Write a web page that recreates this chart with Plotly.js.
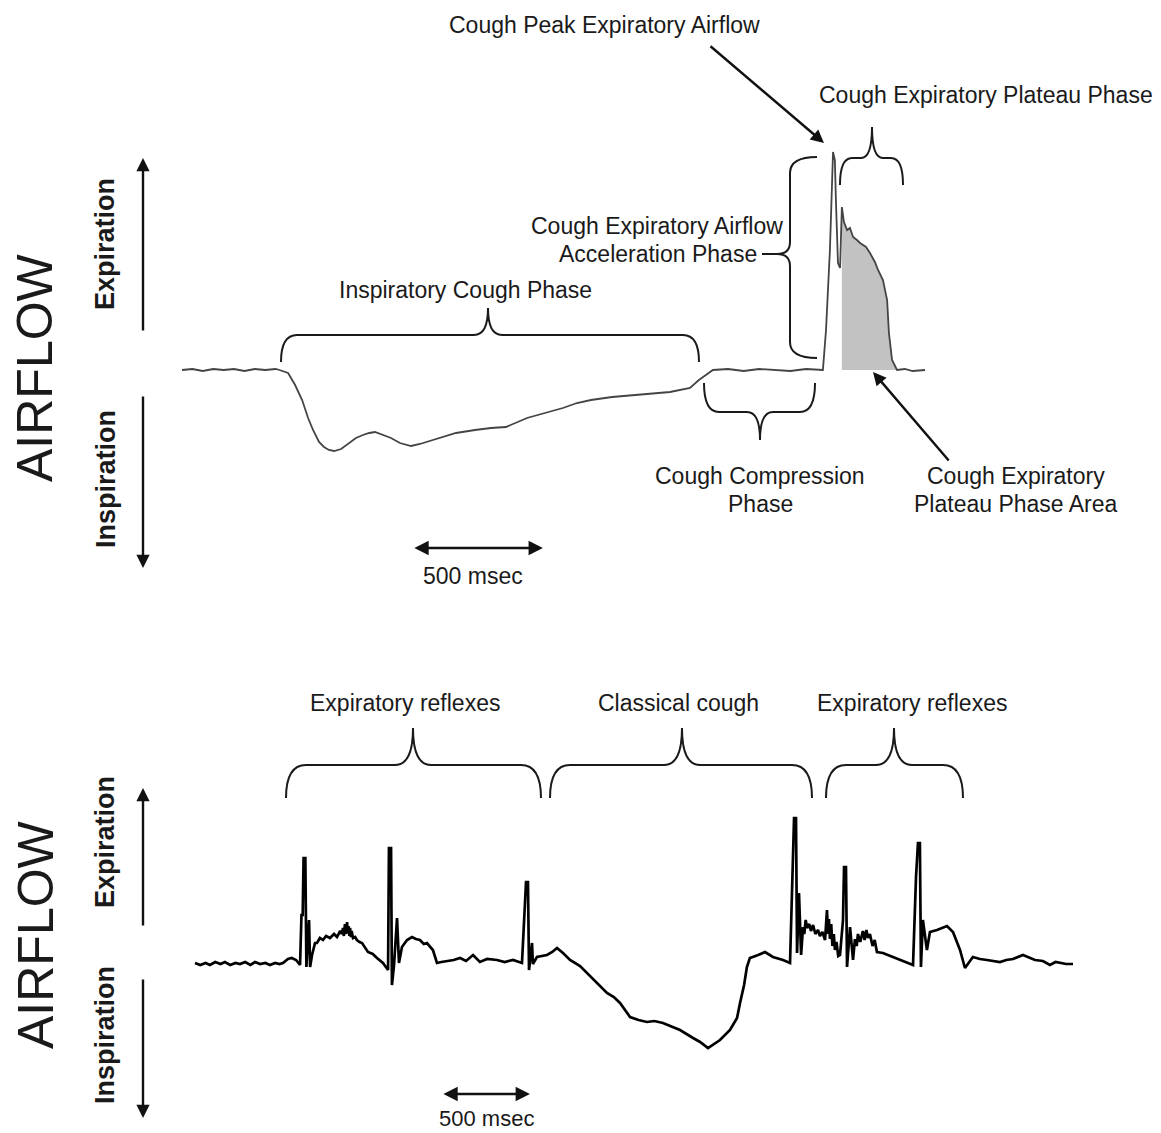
<!DOCTYPE html>
<html>
<head>
<meta charset="utf-8">
<script src="https://cdn.plot.ly/plotly-3.0.1.min.js"></script>
<style>html,body{margin:0;padding:0;background:#fff;}#chart{width:1161px;height:1133px;}</style>
</head>
<body>
<div id="chart"></div>
<script>
// ---------- DATA (time in ms, airflow in arbitrary units; + = expiration, - = inspiration) ----------
// Top panel: single voluntary cough
const topTime = [0, 40, 80, 120, 160, 200, 240, 280, 320, 360, 375, 408, 435, 462, 485, 504, 527, 546, 565, 585,
  612, 642, 669, 696, 720, 742, 773, 804, 838, 881, 915, 942, 992, 1054, 1127, 1188, 1246, 1327, 1396, 1465,
  1519, 1573, 1654, 1738, 1808, 1877, 1954, 1988, 2015, 2042, 2100, 2160, 2220, 2280, 2340, 2400, 2465, 2477,
  2492, 2504, 2511, 2515, 2519, 2523, 2531, 2538, 2546, 2558, 2569, 2581, 2596, 2608, 2631, 2646, 2665, 2677,
  2696, 2712, 2719, 2731, 2750, 2780, 2810, 2858];
const topFlow = [0, 1, -1, 1, 0, 1, -1, 1, 0, 1, 0, -3, -15, -30, -48, -60, -72, -77, -80, -81,
  -79, -73, -68, -65, -63, -62, -65, -68, -73, -76, -74, -72, -68, -63, -60, -58, -57, -48, -43, -38,
  -33, -30, -27, -25, -23, -22, -18, -10, -5, 0, 1, -1, 1, 0, -1, 1, 0, 40,
  120, 218, 210, 170, 130, 107, 102, 163, 148, 140, 142, 133, 130, 127, 123, 117, 108, 100,
  90, 70, 37, 10, 0, 1, -1, 0];
// plateau phase (shaded area) limits, ms
const plateauStart = 2535;
const plateauEnd = 2750;

// Bottom panel: expiratory reflexes and classical cough
const botTime = [
  0, 30, 60, 85, 115, 145, 170, 200, 230, 256, 285, 315, 341, 370, 400, 426, 455, 480, 500, 528,
  550, 574, 597, 605, 612, 617, 627, 633, 642, 648, 654, 665, 682, 693, 710, 727, 745, 767, 790, 807,
  825, 835, 841, 846, 852, 858, 864, 868, 872, 877, 881, 886, 890, 898, 910, 920,
  935, 949, 983, 1010, 1034, 1068, 1097, 1102, 1114, 1119,
  1131, 1148, 1159, 1176, 1205, 1233, 1255, 1278, 1300, 1318, 1352, 1375, 1400, 1432, 1470, 1506, 1540, 1580, 1619, 1660,
  1716, 1760, 1807, 1858, 1875, 1881, 1892, 1898, 1915, 1920, 1943, 2000, 2030, 2057, 2091, 2131, 2188, 2227, 2284, 2341,
  2380, 2415, 2472, 2520, 2568, 2610, 2659, 2700, 2756, 2830, 2870, 2915, 2950, 2983, 3040, 3080, 3097, 3120, 3136, 3153,
  3200, 3239, 3284, 3341, 3381, 3392, 3404, 3415, 3421, 3432, 3444,
  3455, 3462, 3470, 3478, 3490, 3500, 3512, 3525, 3540, 3551, 3565, 3580, 3586, 3591, 3597, 3602, 3608, 3615, 3622, 3630, 3636, 3645, 3655, 3665,
  3682, 3688, 3699, 3705, 3722,
  3739, 3750, 3760, 3767, 3780, 3795, 3805, 3815, 3824, 3835, 3850, 3862, 3875,
  3909, 3966, 4023, 4080, 4097, 4108, 4119, 4125, 4136,
  4159, 4176, 4216, 4273, 4307, 4347, 4375, 4420, 4460, 4500, 4540, 4574, 4610, 4648, 4705, 4740, 4773, 4818, 4858, 4890,
  4915, 4950, 4989];
const botFlow = [
  1, -1, 1, -1, 2, 0, 2, -1, 1, 0, 2, -1, 2, 0, 1, -1, 1, 0, 1, 5,
  6, 4, -1, 49, 49, 106, 106, -3, 30, 44, -3, 9, 21, 21, 26, 24, 28, 26, 30, 27,
  33, 30, 36, 28, 40, 30, 42, 31, 38, 28, 36, 27, 33, 26, 27, 24,
  22, 21, 12, 10, 6, 1, -6, 116, 116, -21,
  -1, 46, 1, 17, 24, 27, 25, 24, 20, 21, 14, 1, 2, 3, 4, 6, 3, 9, 2, 5,
  4, 2, 4, 1, 64, 82, 82, -6, 21, 0, 7, 9, 12, 16, 11, 4, -2, -9, -19, -29,
  -33, -39, -53, -56, -58, -57, -59, -62, -66, -74, -78, -84, -80, -76, -66, -54, -39, -21, -3, 6,
  9, 12, 7, 4, 1, 74, 146, 146, 11, 71, 9,
  37, 30, 44, 36, 40, 33, 39, 30, 34, 28, 32, 24, 40, 54, 30, 45, 25, 40, 18, 30, 14, 22, 8, 9,
  44, 97, 97, -3, 37,
  4, 25, 18, 30, 22, 33, 24, 34, 26, 30, 18, 24, 12,
  11, 7, 3, -1, 87, 121, 121, -3, 44,
  14, 32, 34, 38, 32, 14, -4, 7, 5, 4, 3, 2, 4, 5, 9, 6, 4, 3, -1, 2,
  1, 0, 0];

const scaleBarMs = 500;
const topScaleStart = 888;   // ms, start of top scale bar
const botScaleStart = 1403;  // ms, start of bottom scale bar

// ---------- LAYOUT HELPERS (figure pixels -> paper) ----------
const W = 1161, H = 1133;
const X = px => px / W;
const Y = py => 1 - py / H;
const P = (px, py) => X(px).toFixed(5) + ',' + Y(py).toFixed(5);

function hBrace(x1, x2, xt, yEnd, yLine, yTip, r, rt) {
  return 'M ' + P(x1, yEnd) + ' Q ' + P(x1, yLine) + ' ' + P(x1 + r, yLine) +
    ' L ' + P(xt - rt, yLine) + ' Q ' + P(xt, yLine) + ' ' + P(xt, yTip) +
    ' Q ' + P(xt, yLine) + ' ' + P(xt + rt, yLine) +
    ' L ' + P(x2 - r, yLine) + ' Q ' + P(x2, yLine) + ' ' + P(x2, yEnd);
}
function vBrace(y1, y2, yt, xEnd, xLine, xTip, r, rt) {
  return 'M ' + P(xEnd, y1) + ' Q ' + P(xLine, y1) + ' ' + P(xLine, y1 + r) +
    ' L ' + P(xLine, yt - rt) + ' Q ' + P(xLine, yt) + ' ' + P(xTip, yt) +
    ' Q ' + P(xLine, yt) + ' ' + P(xLine, yt + rt) +
    ' L ' + P(xLine, y2 - r) + ' Q ' + P(xLine, y2) + ' ' + P(xEnd, y2);
}
const braceLine = {color: '#1a1a1a', width: 2};
const shapes = [
  {type: 'path', xref: 'paper', yref: 'paper', line: braceLine, path: hBrace(281, 699, 488, 362, 335, 308, 16, 14)},
  {type: 'path', xref: 'paper', yref: 'paper', line: braceLine, path: hBrace(704, 815, 760, 383, 412, 440, 15, 13)},
  {type: 'path', xref: 'paper', yref: 'paper', line: braceLine, path: hBrace(840, 903, 872, 185, 158, 127, 12, 11)},
  {type: 'path', xref: 'paper', yref: 'paper', line: braceLine, path: vBrace(157, 358, 254, 817, 790, 777, 16, 12)},
  {type: 'line', xref: 'paper', yref: 'paper', line: braceLine, x0: X(762), x1: X(777), y0: Y(254), y1: Y(254)},
  {type: 'path', xref: 'paper', yref: 'paper', line: braceLine, path: hBrace(286, 541, 413, 798, 765, 728, 20, 18)},
  {type: 'path', xref: 'paper', yref: 'paper', line: braceLine, path: hBrace(550, 812, 682, 798, 765, 728, 20, 18)},
  {type: 'path', xref: 'paper', yref: 'paper', line: braceLine, path: hBrace(826, 963, 894, 798, 765, 728, 20, 18)}
];

const FONT = 'Liberation Sans, Arial, Helvetica, sans-serif';
const txt = (s, px, py, size, extra) => Object.assign({
  text: s, xref: 'paper', yref: 'paper', x: X(px), y: Y(py), xanchor: 'center', yanchor: 'middle',
  showarrow: false, font: {family: FONT, size: size || 23, color: '#1a1a1a'}
}, extra || {});
const arrowTo = (hx, hy, tx, ty) => ({
  text: '', xref: 'paper', yref: 'paper', x: X(hx), y: Y(hy), ax: tx - hx, ay: ty - hy,
  showarrow: true, arrowhead: 2, arrowsize: 1.1, arrowwidth: 2.4, arrowcolor: '#111'
});

const annotations = [
  txt('Cough Peak Expiratory Airflow', 604, 25),
  txt('Cough Expiratory Plateau Phase', 986, 95),
  txt('Cough Expiratory Airflow', 657, 226),
  txt('Acceleration Phase', 658, 254),
  txt('Inspiratory Cough Phase', 465, 290),
  txt('Cough Compression', 760, 476),
  txt('Phase', 760, 504),
  txt('Cough Expiratory', 1016, 476),
  txt('Plateau Phase Area', 1016, 504),
  txt('500 msec', 473, 576),
  txt('Expiratory reflexes', 405, 703),
  txt('Classical cough', 678, 703),
  txt('Expiratory reflexes', 912, 703),
  txt('500 msec', 487, 1118, 22),
  txt('AIRFLOW', 35, 368, 50, {textangle: -90}),
  txt('AIRFLOW', 36, 935, 50, {textangle: -90}),
  txt('<b>Expiration</b>', 105, 244, 27, {textangle: -90}),
  txt('<b>Inspiration</b>', 106, 479, 27, {textangle: -90}),
  txt('<b>Expiration</b>', 105, 842, 27, {textangle: -90}),
  txt('<b>Inspiration</b>', 105, 1035, 27, {textangle: -90}),
  arrowTo(824, 143, 709, 45),
  arrowTo(873, 372, 950, 462),
  arrowTo(143, 158, 143, 332),
  arrowTo(143, 568, 143, 395),
  arrowTo(143, 788, 143, 927),
  arrowTo(143, 1118, 143, 978),
  // scale bars spanning 500 ms on each panel's own time axis
  {text: '', xref: 'x', yref: 'paper', axref: 'x', ayref: 'pixel', x: topScaleStart + scaleBarMs, ax: topScaleStart,
   y: Y(548), ay: 0, showarrow: true, arrowside: 'end+start', arrowhead: 2, arrowsize: 1.1, arrowwidth: 2.6, arrowcolor: '#111'},
  {text: '', xref: 'x2', yref: 'paper', axref: 'x2', ayref: 'pixel', x: botScaleStart + scaleBarMs, ax: botScaleStart,
   y: Y(1094), ay: 0, showarrow: true, arrowside: 'end+start', arrowhead: 2, arrowsize: 1.1, arrowwidth: 2.6, arrowcolor: '#111'}
];

// plateau-phase area taken from the top trace
const plTime = [], plFlow = [];
topTime.forEach((t, i) => { if (t >= plateauStart && t <= plateauEnd) { plTime.push(t); plFlow.push(topFlow[i]); } });

const traces = [
  {x: plTime, y: plFlow, xaxis: 'x', yaxis: 'y', type: 'scatter', mode: 'lines', fill: 'tozeroy',
   fillcolor: '#c2c2c2', line: {width: 0, color: 'rgba(0,0,0,0)'}, hoverinfo: 'skip', name: 'Plateau phase area'},
  {x: topTime, y: topFlow, xaxis: 'x', yaxis: 'y', type: 'scatter', mode: 'lines',
   line: {color: '#444', width: 1.8}, name: 'Voluntary cough'},
  {x: botTime, y: botFlow, xaxis: 'x2', yaxis: 'y2', type: 'scatter', mode: 'lines',
   line: {color: '#000', width: 2.7}, name: 'Reflex cough'}
];

const hidden = {visible: false, showgrid: false, zeroline: false, fixedrange: true};
const layout = {
  width: W, height: H,
  margin: {l: 0, r: 0, t: 0, b: 0, pad: 0},
  paper_bgcolor: '#fff', plot_bgcolor: 'rgba(0,0,0,0)',
  showlegend: false,
  xaxis: Object.assign({domain: [0, 1], range: [-700, 3765.4], anchor: 'y'}, hidden),
  yaxis: Object.assign({domain: [1 - 600 / H, 1], range: [-230, 370], anchor: 'x'}, hidden),
  xaxis2: Object.assign({domain: [0, 1], range: [-1108, 5489], anchor: 'y2'}, hidden),
  yaxis2: Object.assign({domain: [0, 1 - 600 / H], range: [-169, 364], anchor: 'x2'}, hidden),
  shapes: shapes,
  annotations: annotations
};

Plotly.newPlot('chart', traces, layout, {staticPlot: true, displayModeBar: false});
</script>
</body>
</html>
